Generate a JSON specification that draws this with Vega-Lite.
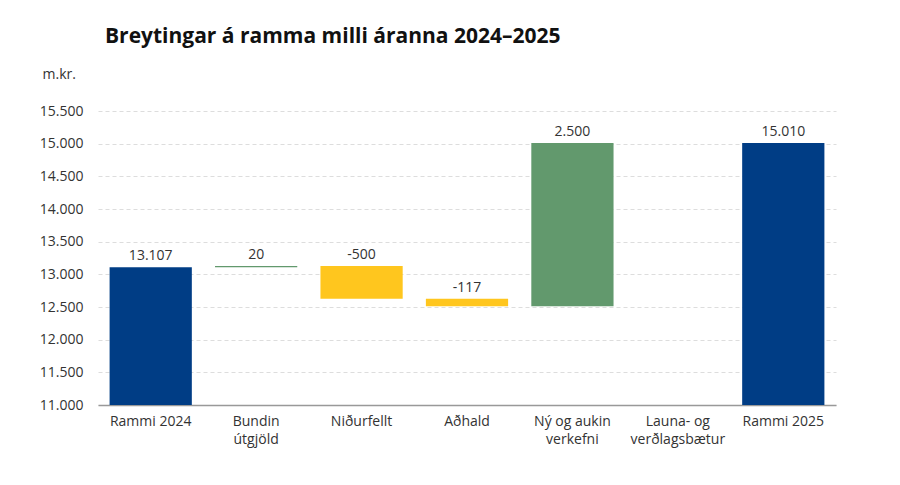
{
  "$schema": "https://vega.github.io/schema/vega-lite/v6.json",
  "width": 738,
  "height": 294,
  "autosize": {"type": "none"},
  "padding": {"left": 98, "top": 111, "right": 64, "bottom": 80},
  "title": {
    "text": "Breytingar á ramma milli áranna 2024–2025",
    "anchor": "start",
    "frame": "group",
    "dx": 7,
    "offset": 20,
    "font": "Open Sans",
    "fontSize": 21,
    "fontWeight": "bold",
    "color": "#111111"
  },
  "config": {
    "locale": {"number": {"decimal": ",", "thousands": ".", "grouping": [3], "currency": ["", ""], "minus": "-"}},
    "view": {"stroke": null},
    "font": "Open Sans"
  },
  "data": {
    "values": [
      {"flokkur": "Rammi 2024", "start": 11000, "end": 13107, "label": 13107, "type": "total"},
      {"flokkur": "Bundin útgjöld", "start": 13107, "end": 13127, "label": 20, "type": "up"},
      {"flokkur": "Niðurfellt", "start": 13127, "end": 12627, "label": -500, "type": "down"},
      {"flokkur": "Aðhald", "start": 12627, "end": 12510, "label": -117, "type": "down"},
      {"flokkur": "Ný og aukin verkefni", "start": 12510, "end": 15010, "label": 2500, "type": "up"},
      {"flokkur": "Launa- og verðlagsbætur", "start": 15010, "end": 15010, "label": null, "type": "up"},
      {"flokkur": "Rammi 2025", "start": 11000, "end": 15010, "label": 15010, "type": "total"}
    ]
  },
  "encoding": {
    "x": {
      "field": "flokkur",
      "type": "nominal",
      "sort": null,
      "scale": {"paddingInner": 0.22, "paddingOuter": 0.11},
      "axis": {
        "title": null,
        "labelAngle": 0,
        "labelFontSize": 14,
        "labelColor": "#333333",
        "labelPadding": 9,
        "labelLineHeight": 18,
        "labelBaseline": "top",
        "ticks": false,
        "domainColor": "#999999",
        "domainWidth": 1.5,
        "grid": false,
        "labelExpr": "datum.label == 'Bundin útgjöld' ? ['Bundin', 'útgjöld'] : datum.label == 'Ný og aukin verkefni' ? ['Ný og aukin', 'verkefni'] : datum.label == 'Launa- og verðlagsbætur' ? ['Launa- og', 'verðlagsbætur'] : datum.label"
      }
    }
  },
  "layer": [
    {
      "mark": {"type": "bar"},
      "encoding": {
        "y": {
          "field": "start",
          "type": "quantitative",
          "title": "m.kr.",
          "scale": {"domain": [11000, 15500], "nice": false, "zero": false},
          "axis": {
            "title": "m.kr.",
            "titleAngle": 0,
            "titleAlign": "left",
            "titleBaseline": "alphabetic",
            "titleX": -56,
            "titleY": -33,
            "titleFontSize": 14,
            "titleFontWeight": "normal",
            "titleColor": "#333333",
            "values": [11000, 11500, 12000, 12500, 13000, 13500, 14000, 14500, 15000, 15500],
            "format": ",.0f",
            "labelFontSize": 14,
            "labelColor": "#333333",
            "labelPadding": 15,
            "ticks": false,
            "domain": false,
            "grid": true,
            "gridColor": "#dddddd",
            "gridDash": [4, 3],
            "gridWidth": 1
          }
        },
        "y2": {"field": "end"},
        "color": {
          "field": "type",
          "type": "nominal",
          "scale": {"domain": ["total", "up", "down"], "range": ["#003D85", "#62996D", "#FFC61E"]},
          "legend": null
        }
      }
    },
    {
      "transform": [
        {"filter": "datum.label != null"},
        {"calculate": "max(datum.start, datum.end)", "as": "top"}
      ],
      "mark": {"type": "text", "baseline": "bottom", "dy": -4, "fontSize": 14, "color": "#333333"},
      "encoding": {
        "y": {
          "field": "top",
          "type": "quantitative",
          "title": "m.kr.",
          "axis": {
            "title": "m.kr.",
            "titleAngle": 0,
            "titleAlign": "left",
            "titleBaseline": "alphabetic",
            "titleX": -56,
            "titleY": -33,
            "titleFontSize": 14,
            "titleFontWeight": "normal",
            "titleColor": "#333333",
            "values": [11000, 11500, 12000, 12500, 13000, 13500, 14000, 14500, 15000, 15500],
            "format": ",.0f",
            "labelFontSize": 14,
            "labelColor": "#333333",
            "labelPadding": 15,
            "ticks": false,
            "domain": false,
            "grid": true,
            "gridColor": "#dddddd",
            "gridDash": [4, 3],
            "gridWidth": 1
          }
        },
        "text": {"field": "label", "type": "quantitative", "format": ",.0f"}
      }
    }
  ]
}
